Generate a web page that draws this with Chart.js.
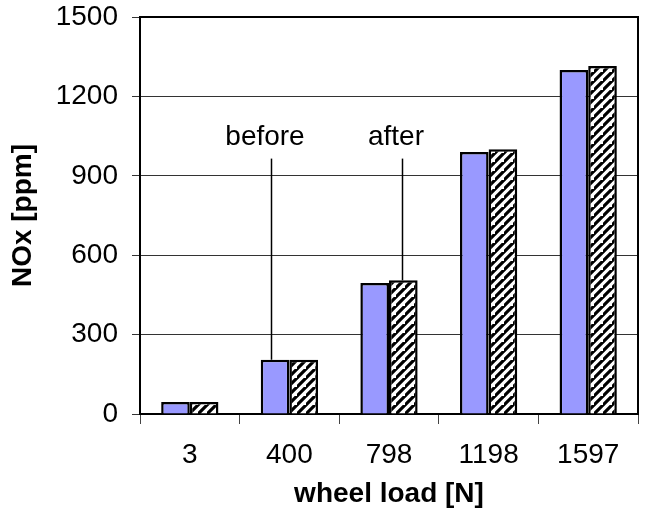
<!DOCTYPE html>
<html>
<head>
<meta charset="utf-8">
<script src="https://cdn.jsdelivr.net/npm/chart.js@4.4.1/dist/chart.umd.min.js"></script>
<style>
  html, body { margin: 0; padding: 0; background: #fff; }
  #wrap { width: 646px; height: 508px; }
</style>
</head>
<body>
<div id="wrap"><canvas id="noxChart" width="646" height="508"></canvas></div>
<script>
// wheel load categories and NOx values (ppm)
const wheelLoads = ['3', '400', '798', '1198', '1597'];
const noxBefore = [45, 205, 495, 990, 1300];
const noxAfter = [45, 205, 505, 1000, 1315];
const yTicks = [0, 300, 600, 900, 1200, 1500];

// callout labels pointing at bars
const calloutText = ['before', 'after'];
const calloutCategory = [1, 2];
const calloutDataset = [0, 1];
const calloutLineTop = 965;   // value where the leader line starts
const calloutTextAt = 1045;   // value where the text sits

const FONT = 'Arial, "Liberation Sans", sans-serif';

// diagonal hatch for the "after" series
function makeHatch() {
  const s = 9;
  const c = document.createElement('canvas');
  c.width = s;
  c.height = s;
  const g = c.getContext('2d');
  g.fillStyle = '#fff';
  g.fillRect(0, 0, s, s);
  g.strokeStyle = '#000';
  g.lineWidth = 3.2;
  g.beginPath();
  g.moveTo(-2, s + 2); g.lineTo(s + 2, -2);
  g.moveTo(-s - 2, s + 2); g.lineTo(2, -2);
  g.moveTo(s - 2, 2 * s + 2); g.lineTo(2 * s + 2, s - 2);
  g.stroke();
  return g.createPattern(c, 'repeat');
}

const ctx = document.getElementById('noxChart').getContext('2d');

// frame on top and right of the plot area
const framePlugin = {
  id: 'frame',
  afterDraw(chart) {
    const a = chart.chartArea;
    const c = chart.ctx;
    c.save();
    c.strokeStyle = '#000';
    c.lineWidth = 2;
    c.beginPath();
    c.moveTo(a.left, a.top);
    c.lineTo(a.right, a.top);
    c.lineTo(a.right, a.bottom);
    c.stroke();
    c.restore();
  }
};

// "before" / "after" labels with leader lines
const calloutPlugin = {
  id: 'callouts',
  afterDatasetsDraw(chart) {
    const c = chart.ctx;
    const yScale = chart.scales.y;
    c.save();
    c.strokeStyle = '#000';
    c.lineWidth = 1.5;
    c.fillStyle = '#000';
    c.font = '28px ' + FONT;
    c.textAlign = 'center';
    c.textBaseline = 'middle';
    calloutText.forEach((txt, i) => {
      const bar = chart.getDatasetMeta(calloutDataset[i]).data[calloutCategory[i]];
      const lx = Math.round(bar.x - (i === 0 ? 4.5 : 1.5)) + 0.5;
      c.beginPath();
      c.moveTo(lx, yScale.getPixelForValue(calloutLineTop));
      c.lineTo(lx, bar.y);
      c.stroke();
      c.fillText(txt, lx - 6.5, yScale.getPixelForValue(calloutTextAt));
    });
    c.restore();
  }
};

new Chart(ctx, {
  type: 'bar',
  data: {
    labels: wheelLoads,
    datasets: [
      {
        label: 'before',
        data: noxBefore,
        backgroundColor: '#9999FF',
        borderColor: '#000',
        borderWidth: 2.5
      },
      {
        label: 'after',
        data: noxAfter,
        backgroundColor: makeHatch(),
        borderColor: '#000',
        borderWidth: 2.5
      }
    ]
  },
  options: {
    responsive: false,
    animation: false,
    categoryPercentage: 0.575,
    barPercentage: 1,
    layout: { padding: { left: 0, right: 8, top: 17, bottom: 0 } },
    plugins: {
      legend: { display: false },
      tooltip: { enabled: false }
    },
    scales: {
      x: {
        grid: {
          drawOnChartArea: false,
          drawTicks: true,
          tickLength: 10,
          color: '#444',
          offset: true
        },
        border: { color: '#000', width: 2 },
        ticks: {
          color: '#000',
          padding: 14,
          font: { family: FONT, size: 28 }
        },
        title: {
          display: true,
          text: 'wheel load [N]',
          color: '#000',
          font: { family: FONT, size: 28, weight: 'bold' },
          padding: { top: 0, bottom: -3 }
        },
        afterFit(scale) {
          scale.height = 94;
          scale.paddingLeft = 0;
          scale.paddingRight = 0;
        }
      },
      y: {
        min: 0,
        max: 1500,
        afterBuildTicks(scale) {
          scale.ticks = yTicks.map(v => ({ value: v }));
        },
        grid: {
          color: '#333',
          lineWidth: 1,
          tickLength: 8,
          drawTicks: true
        },
        border: { color: '#000', width: 2 },
        ticks: {
          color: '#000',
          padding: 14,
          font: { family: FONT, size: 28 },
          callback: (v) => String(v)
        },
        title: {
          display: true,
          text: 'NOx [ppm]',
          color: '#000',
          font: { family: FONT, size: 28, weight: 'bold' },
          padding: { top: 6, bottom: 0 }
        },
        afterFit(scale) {
          scale.width = 140;
          scale.paddingTop = 0;
          scale.paddingBottom = 0;
        }
      }
    }
  },
  plugins: [framePlugin, calloutPlugin]
});
</script>
</body>
</html>
